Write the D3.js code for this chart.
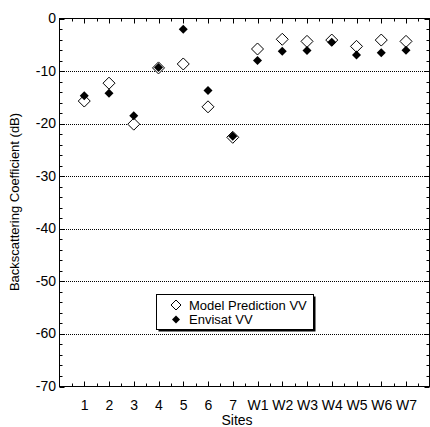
<!DOCTYPE html>
<html>
<head>
<meta charset="utf-8">
<script src="https://cdn.jsdelivr.net/npm/d3@7"></script>
<style>
  html, body { margin: 0; padding: 0; background: #fff; }
  svg { display: block; font-family: "Liberation Sans", Arial, Helvetica, sans-serif; }
</style>
</head>
<body>
<script>
// Sites along the x axis
const sites = ["1", "2", "3", "4", "5", "6", "7", "W1", "W2", "W3", "W4", "W5", "W6", "W7"];
// Backscattering coefficient (dB), VV polarisation
const modelVV   = [-15.7, -12.3, -20.1, -9.4, -8.65, -16.8, -22.6, -5.8, -3.95, -4.35, -4.1, -5.3, -4.1, -4.35];
const envisatVV = [-14.7, -14.2, -18.5, -9.3, -2.05, -13.7, -22.4, -8.0, -6.25, -6.1, -4.5, -6.95, -6.5, -6.05];
const yTicks = [0, -10, -20, -30, -40, -50, -60, -70];
const gridValues = [-10, -20, -30, -40, -50, -60];
const legendLabels = ["Model Prediction VV", "Envisat VV"];

const W = 430, H = 427;
const plotL = 59.5, plotR = 429.5, plotT = 18.5, plotB = 386.5;

const svg = d3.select("body").append("svg").attr("width", W).attr("height", H);

// site index 1..14 on a 0..15 axis
const x = d3.scaleLinear().domain([0, 15]).range([plotL, plotL + 24.75 * 15]);
const y = d3.scaleLinear().domain([-70, 0]).range([plotB, plotT]);

// dotted horizontal grid
svg.append("g").selectAll("line").data(gridValues).join("line")
  .attr("x1", 60).attr("x2", 430)
  .attr("y1", d => Math.round(y(d)) + 0.5).attr("y2", d => Math.round(y(d)) + 0.5)
  .attr("stroke", "#000").attr("stroke-width", 1).attr("stroke-dasharray", "1,1");

// frame with inward ticks
const ax = svg.append("g").attr("stroke", "#000").attr("stroke-width", 1).attr("fill", "none");
ax.append("rect").attr("x", plotL).attr("y", plotT).attr("width", plotR - plotL).attr("height", plotB - plotT);

const majorX = d3.range(1, 15);
const minorX = d3.range(0.5, 15, 1);
// bottom and top ticks
[[plotB, -1], [plotT, 1]].forEach(([yy, dir]) => {
  ax.append("g").selectAll("line").data(majorX).join("line")
    .attr("x1", d => Math.round(x(d)) + 0.5).attr("x2", d => Math.round(x(d)) + 0.5)
    .attr("y1", yy).attr("y2", yy + dir * 5);
  ax.append("g").selectAll("line").data(minorX).join("line")
    .attr("x1", d => Math.round(x(d)) + 0.5).attr("x2", d => Math.round(x(d)) + 0.5)
    .attr("y1", yy).attr("y2", yy + dir * 3);
});
// left and right ticks (minor every 2 dB)
const minorY = d3.range(-68, 0, 2).filter(v => v % 10 !== 0);
[[plotL, 1], [plotR, -1]].forEach(([xx, dir]) => {
  ax.append("g").selectAll("line").data(minorY).join("line")
    .attr("x1", xx).attr("x2", xx + dir * 3)
    .attr("y1", d => Math.round(y(d)) + 0.5).attr("y2", d => Math.round(y(d)) + 0.5);
  ax.append("g").selectAll("line").data(yTicks).join("line")
    .attr("x1", xx).attr("x2", xx + dir * 5)
    .attr("y1", d => Math.round(y(d)) + 0.5).attr("y2", d => Math.round(y(d)) + 0.5);
});

// y tick labels
svg.append("g").selectAll("text").data(yTicks).join("text")
  .attr("x", plotL - 3.5).attr("y", d => y(d) + 4.5)
  .attr("text-anchor", "end").attr("font-size", 14).text(d => d);

// x tick labels
svg.append("g").selectAll("text").data(sites).join("text")
  .attr("x", (d, i) => x(i + 1) + 0.5).attr("y", 410)
  .attr("text-anchor", "middle").attr("font-size", 14).text(d => d);

// axis titles
svg.append("text").attr("x", 237).attr("y", 425)
  .attr("text-anchor", "middle").attr("font-size", 14).text("Sites");
svg.append("text").attr("transform", `translate(19,202) rotate(-90)`)
  .attr("text-anchor", "middle").attr("font-size", 13).text("Backscattering Coefficient (dB)");

// markers
const diamond = s => `M0,${-s}L${s},0L0,${s}L${-s},0Z`;
svg.append("g").selectAll("path").data(modelVV).join("path")
  .attr("d", diamond(6))
  .attr("transform", (d, i) => `translate(${x(i + 1)},${y(d)})`)
  .attr("fill", "#fff").attr("stroke", "#000").attr("stroke-width", 1);
svg.append("g").selectAll("path").data(envisatVV).join("path")
  .attr("d", diamond(4.5))
  .attr("transform", (d, i) => `translate(${x(i + 1)},${y(d)})`)
  .attr("fill", "#000");

// legend with drop shadow
const lg = svg.append("g");
const lx = 156.5, ly = 294.5, lw = 157, lh = 35;
lg.append("rect").attr("x", lx + 2).attr("y", ly + 2).attr("width", lw).attr("height", lh).attr("fill", "#000");
lg.append("rect").attr("x", lx).attr("y", ly).attr("width", lw).attr("height", lh)
  .attr("fill", "#fff").attr("stroke", "#000").attr("stroke-width", 1);
lg.append("path").attr("d", diamond(5)).attr("transform", `translate(176,305)`)
  .attr("fill", "#fff").attr("stroke", "#000");
lg.append("path").attr("d", diamond(4)).attr("transform", `translate(176,319.5)`).attr("fill", "#000");
lg.selectAll("text").data(legendLabels).join("text")
  .attr("x", 189).attr("y", (d, i) => 309.5 + i * 14.5)
  .attr("font-size", 13).text(d => d);
</script>
</body>
</html>
